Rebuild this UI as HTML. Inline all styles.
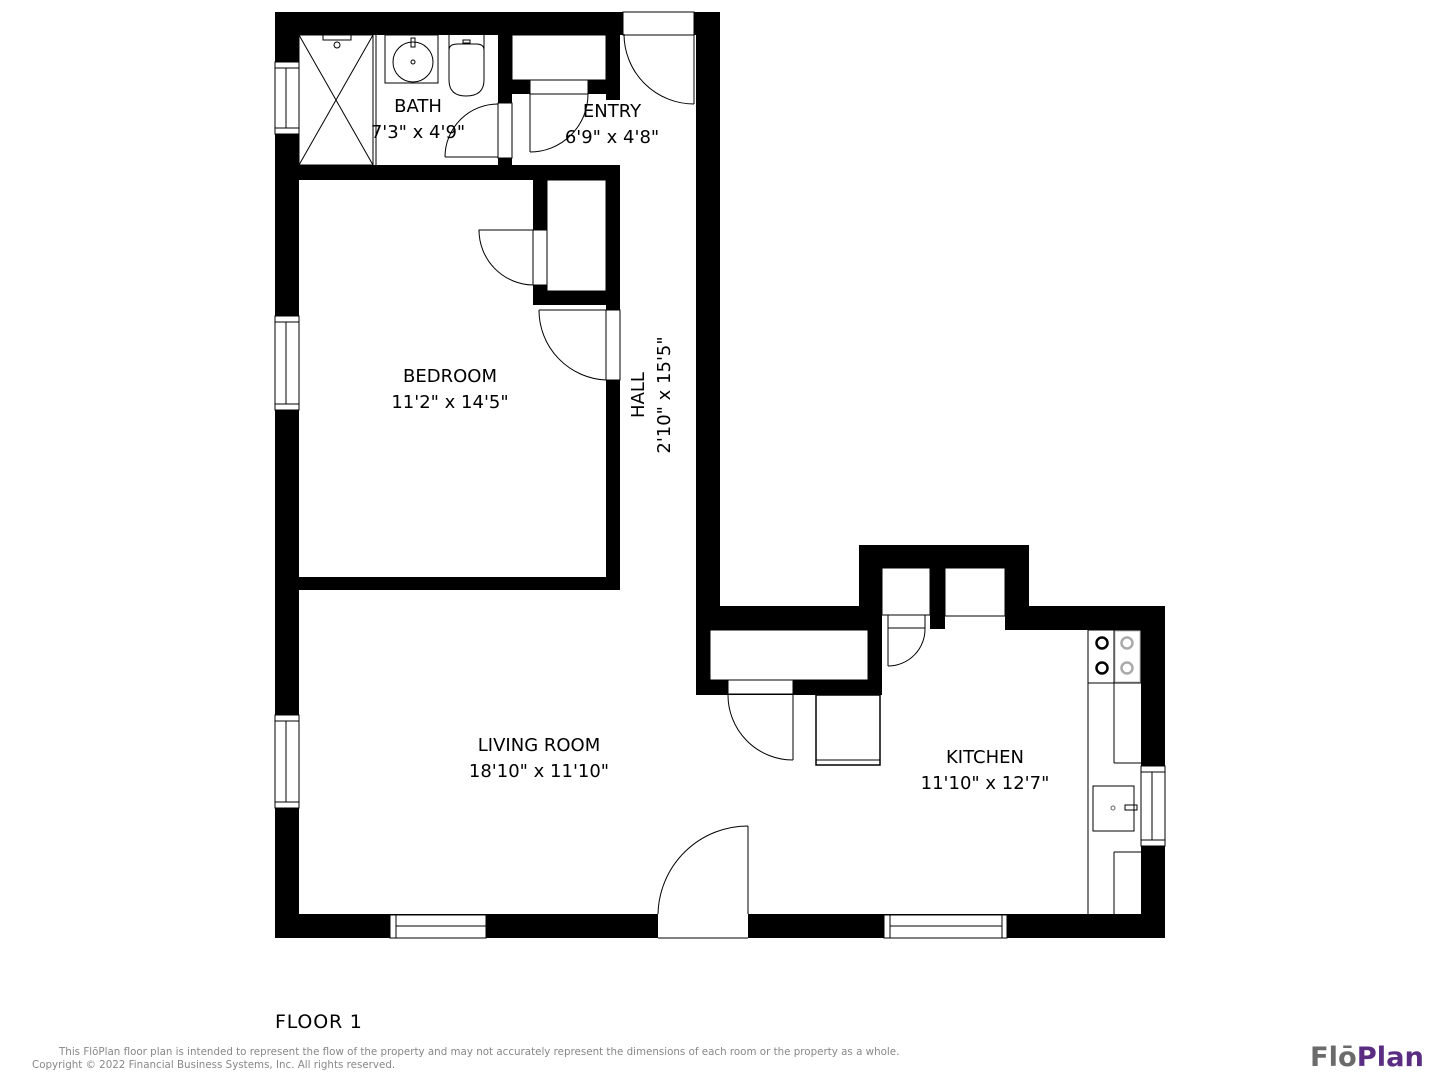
<!DOCTYPE html>
<html><head><meta charset="utf-8"><style>
html,body{margin:0;padding:0;background:#fff;}
svg{display:block;}
text{font-family:"DejaVu Sans","Liberation Sans",sans-serif;}
</style></head><body>
<svg width="1440" height="1080" viewBox="0 0 1440 1080" xmlns="http://www.w3.org/2000/svg">
<g fill="#000">
<rect x="275" y="12" width="24" height="926"/>
<rect x="275" y="12" width="445" height="23"/>
<rect x="696" y="12" width="24" height="681"/>
<rect x="275" y="914" width="890" height="24"/>
<rect x="1141" y="606" width="24" height="332"/>
<rect x="1005" y="606" width="160" height="24"/>
<rect x="859" y="545" width="170" height="23"/>
<rect x="859" y="545" width="23" height="148"/>
<rect x="1005" y="545" width="24" height="85"/>
<rect x="696" y="606" width="186" height="89"/>
<rect x="930" y="568" width="15" height="61"/>
<rect x="299" y="165" width="321" height="15"/>
<rect x="498" y="35" width="14" height="130"/>
<rect x="512" y="80" width="108" height="14"/>
<rect x="606" y="35" width="14" height="65"/>
<rect x="533" y="180" width="14" height="125"/>
<rect x="606" y="180" width="14" height="410"/>
<rect x="533" y="291" width="87" height="14"/>
<rect x="299" y="577" width="321" height="13"/>
</g>
<g fill="#fff" stroke="#000" stroke-width="1">
<rect x="710" y="630" width="158" height="50"/>
<rect x="882" y="568" width="48" height="47"/>
<rect x="945" y="568" width="60" height="48"/>
<rect x="512" y="35" width="94" height="45"/>
<rect x="547" y="180" width="59" height="111"/>
<rect x="275" y="62" width="24" height="72"/><line x1="286" y1="68" x2="286" y2="128"/><line x1="275" y1="68" x2="299" y2="68"/><line x1="275" y1="128" x2="299" y2="128"/>
<rect x="275" y="316" width="24" height="94"/><line x1="286" y1="322" x2="286" y2="404"/><line x1="275" y1="322" x2="299" y2="322"/><line x1="275" y1="404" x2="299" y2="404"/>
<rect x="275" y="715" width="24" height="93"/><line x1="286" y1="721" x2="286" y2="802"/><line x1="275" y1="721" x2="299" y2="721"/><line x1="275" y1="802" x2="299" y2="802"/>
<rect x="390" y="915" width="96" height="23"/><line x1="396" y1="926" x2="486" y2="926"/><line x1="396" y1="915" x2="396" y2="938"/>
<rect x="884" y="915" width="123" height="23"/><line x1="890" y1="926" x2="1002" y2="926"/><line x1="890" y1="915" x2="890" y2="938"/><line x1="1002" y1="915" x2="1002" y2="938"/>
<rect x="1141" y="766" width="24" height="80"/><line x1="1152" y1="772" x2="1152" y2="840"/><line x1="1141" y1="772" x2="1165" y2="772"/><line x1="1141" y1="840" x2="1165" y2="840"/>
<rect x="623" y="12" width="71" height="23"/>
<rect x="658" y="914" width="90" height="24" stroke="none"/>
<line x1="658" y1="938" x2="748" y2="938"/>
<rect x="498" y="103" width="14" height="55"/>
<rect x="533" y="230" width="14" height="55"/>
<rect x="606" y="310" width="14" height="70"/>
<rect x="728" y="680" width="65" height="14"/>
<rect x="530" y="80" width="58" height="14"/>
<rect x="888" y="615" width="37" height="13"/>
</g>
<g fill="none" stroke="#000" stroke-width="1">
<path d="M694 35 V104 M694 104 A70 70 0 0 1 624 34"/>
<path d="M748 914 V826 M748 826 A90 90 0 0 0 658 914"/>
<path d="M445 157 H498 M445 157 A53 53 0 0 1 498 104"/>
<path d="M530 94 V152 M530 152 A58 58 0 0 0 588 94"/>
<path d="M533 230 H479 V232 M479 230 A55 55 0 0 0 533 285"/>
<path d="M606 310 H539 M539 310 A70 70 0 0 0 606 380"/>
<path d="M728 694 A65 65 0 0 0 793 760 M793 694 V760"/>
<path d="M888 628 V666 M888 666 A37 37 0 0 0 925 628"/>
<rect x="299" y="35" width="74" height="130"/><line x1="299" y1="35" x2="373" y2="165"/><line x1="373" y1="35" x2="299" y2="165"/>
<line x1="376" y1="35" x2="376" y2="165"/>
<rect x="323" y="35" width="28" height="5"/><circle cx="337" cy="45" r="3"/>
<rect x="385" y="35" width="53" height="48"/><circle cx="413" cy="62" r="20"/><circle cx="413" cy="62" r="2"/><rect x="411" y="38" width="4" height="9"/>
<path d="M449 35 V80 Q449 96 466 96 Q484 96 484 80 V35"/><path d="M449 50 Q449 44 458 44 H476 Q484 44 484 50"/><rect x="463" y="40" width="7" height="3"/>
<rect x="816" y="695" width="64" height="70" stroke-width="1.5"/><line x1="816" y1="760" x2="880" y2="760"/>
<line x1="1088" y1="630" x2="1088" y2="914"/>
<rect x="1088" y="630" width="53" height="53" fill="#fff"/>
<line x1="1114" y1="630" x2="1114" y2="683"/>
<line x1="1114" y1="683" x2="1114" y2="763"/><line x1="1114" y1="763" x2="1141" y2="763"/>
<line x1="1114" y1="852" x2="1141" y2="852"/><line x1="1114" y1="852" x2="1114" y2="914"/>
<rect x="1093" y="786" width="41" height="45"/><circle cx="1113" cy="808" r="2" stroke="#666"/><rect x="1125" y="805" width="12" height="5"/>
</g>
<g fill="none" stroke-width="2.5">
<circle cx="1102" cy="643" r="5.5" stroke="#000"/><circle cx="1102" cy="668" r="5.5" stroke="#000"/>
<circle cx="1127" cy="643" r="5.5" stroke="#aaa"/><circle cx="1127" cy="668" r="5.5" stroke="#aaa"/>
</g>
<rect x="1115" y="631" width="25" height="51" fill="none" stroke="#bbb" stroke-width="1"/>
<g font-size="18" fill="#000" text-anchor="middle">
<text x="418" y="112">BATH</text><text x="418" y="138">7'3" x 4'9"</text>
<text x="612" y="117">ENTRY</text><text x="612" y="143">6'9" x 4'8"</text>
<text x="450" y="382">BEDROOM</text><text x="450" y="408">11'2" x 14'5"</text>
<text x="539" y="751">LIVING ROOM</text><text x="539" y="777">18'10" x 11'10"</text>
<text x="985" y="763">KITCHEN</text><text x="985" y="789">11'10" x 12'7"</text>
<text transform="translate(644,395) rotate(-90)">HALL</text>
<text transform="translate(670,395) rotate(-90)">2'10" x 15'5"</text>
</g>
<text x="275" y="1028" font-size="19" letter-spacing="0.8">FLOOR 1</text>
<text x="59" y="1055" font-size="10.3" fill="#888">This FlōPlan floor plan is intended to represent the flow of the property and may not accurately represent the dimensions of each room or the property as a whole.</text>
<text x="32" y="1068" font-size="10.3" fill="#888">Copyright © 2022 Financial Business Systems, Inc. All rights reserved.</text>
<text x="1310" y="1066" font-size="27" font-weight="bold" fill="#6b6b6b" textLength="114" lengthAdjust="spacingAndGlyphs">Flō<tspan fill="#5a2d82">Plan</tspan></text>
</svg>
</body></html>
